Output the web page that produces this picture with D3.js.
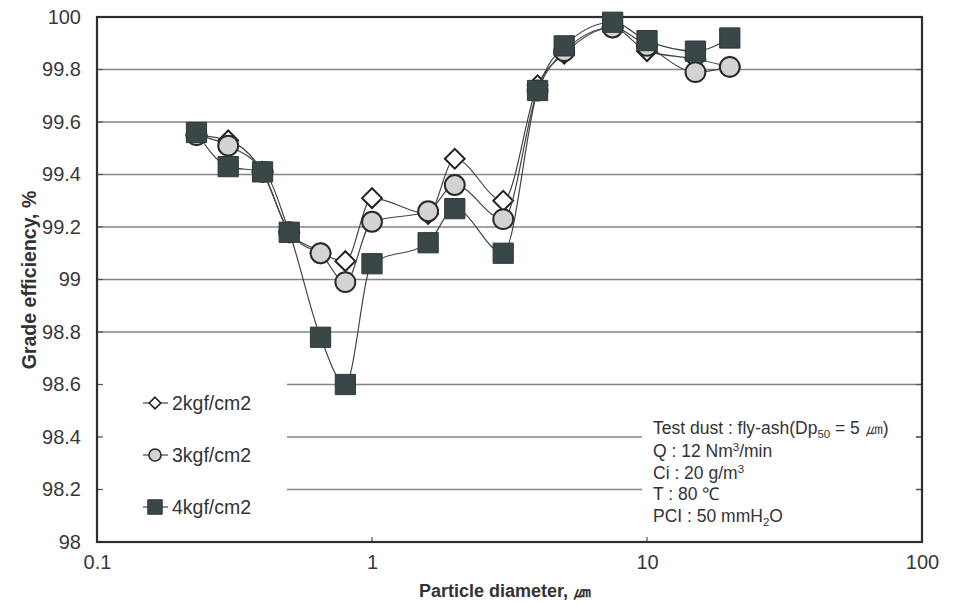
<!DOCTYPE html>
<html>
<head>
<meta charset="utf-8">
<script src="https://cdn.jsdelivr.net/npm/d3@7"></script>
<style>
  html, body { margin: 0; padding: 0; background: #fff; }
  svg { display: block; font-family: "Liberation Sans", Arial, sans-serif; }
</style>
</head>
<body>
<svg id="chart" width="953" height="605"></svg>
<script>
// Particle diameters (µm) at which grade efficiency was measured
const diameters = [0.23, 0.3, 0.4, 0.5, 0.65, 0.8, 1.0, 1.6, 2.0, 3.0, 4.0, 5.0, 7.5, 10, 15, 20];

// Grade efficiency (%) for each pulse pressure
const eff2kgf = [99.55, 99.53, 99.41, 99.18, 99.10, 99.07, 99.31, 99.25, 99.46, 99.30, 99.74, 99.86, 99.96, 99.87, 99.84, 99.81];
const eff3kgf = [99.55, 99.51, 99.41, 99.18, 99.10, 98.99, 99.22, 99.26, 99.36, 99.23, 99.72, 99.87, 99.96, 99.89, 99.79, 99.81];
const eff4kgf = [99.56, 99.43, 99.41, 99.18, 98.78, 98.60, 99.06, 99.14, 99.27, 99.10, 99.72, 99.89, 99.98, 99.91, 99.87, 99.92];

const seriesNames = ["2kgf/cm2", "3kgf/cm2", "4kgf/cm2"];

// Axis ticks
const xTicks = [0.1, 1, 10, 100];
const yTicks = [98, 98.2, 98.4, 98.6, 98.8, 99, 99.2, 99.4, 99.6, 99.8, 100];

const svg = d3.select("#chart");

const x = d3.scaleLog().domain([0.1, 100]).range([97, 922]);
const y = d3.scaleLinear().domain([98, 100]).range([542, 17]);

// Horizontal grid lines
svg.append("g")
  .selectAll("line")
  .data(yTicks.filter(v => v > 98 && v < 100))
  .join("line")
  .attr("x1", x(0.1)).attr("x2", x(100))
  .attr("y1", d => y(d)).attr("y2", d => y(d))
  .attr("stroke", "#858585").attr("stroke-width", 1.5);

// White panels behind the legend and the test-condition note
svg.append("rect").attr("x", 99).attr("y", 352).attr("width", 188).attr("height", 188).attr("fill", "#fff");
svg.append("rect").attr("x", 642).attr("y", 405).attr("width", 274).attr("height", 135).attr("fill", "#fff");

// Inward tick stubs on left and right edges
const stubs = svg.append("g").attr("stroke", "#555").attr("stroke-width", 1.2);
yTicks.forEach(v => {
  stubs.append("line").attr("x1", x(0.1)).attr("x2", x(0.1) + 6).attr("y1", y(v)).attr("y2", y(v));
  stubs.append("line").attr("x1", x(100) - 6).attr("x2", x(100)).attr("y1", y(v)).attr("y2", y(v));
});
[1, 10].forEach(v => {
  stubs.append("line").attr("x1", x(v)).attr("x2", x(v)).attr("y1", y(98)).attr("y2", y(98) - 5);
});

// Plot frame
svg.append("rect")
  .attr("x", x(0.1)).attr("y", y(100))
  .attr("width", x(100) - x(0.1)).attr("height", y(98) - y(100))
  .attr("fill", "none").attr("stroke", "#2e2e2e").attr("stroke-width", 2.2);

// Axes (labels only)
const fmt = d => String(+d.toFixed(1));
const yAxis = svg.append("g")
  .attr("transform", `translate(${x(0.1)},0)`)
  .call(d3.axisLeft(y).tickValues(yTicks).tickFormat(fmt).tickSize(0).tickPadding(16));
const xAxis = svg.append("g")
  .attr("transform", `translate(0,${y(98)})`)
  .call(d3.axisBottom(x).tickValues(xTicks).tickFormat(fmt).tickSize(0).tickPadding(13));
[yAxis, xAxis].forEach(g => {
  g.select(".domain").remove();
  g.selectAll("text")
    .attr("font-family", "'Liberation Sans', Arial, sans-serif")
    .attr("font-size", 20).attr("fill", "#383838");
});

// Axis titles
svg.append("text")
  .attr("x", 505).attr("y", 597)
  .attr("text-anchor", "middle")
  .attr("font-size", 18).attr("font-weight", "bold").attr("fill", "#333")
  .text("Particle diameter, ㎛");
svg.append("text")
  .attr("transform", "translate(36,280) rotate(-90)")
  .attr("text-anchor", "middle")
  .attr("font-size", 19.5).attr("font-weight", "bold").attr("fill", "#333")
  .text("Grade efficiency, %");

// Marker drawing helpers
const markerStyle = [
  { sym: d3.symbolDiamond2, size: 250, fill: "#fff", stroke: "#222", sw: 2 },
  { sym: d3.symbolCircle, size: 310, fill: "#d3d3d3", stroke: "#2a2a2a", sw: 2 },
  { sym: d3.symbolSquare, size: 410, fill: "#3a4747", stroke: "#2f3a3a", sw: 1 }
];
const legendSizes = [85, 115, 210];

const seriesValues = [eff2kgf, eff3kgf, eff4kgf];

const line = d3.line()
  .x(d => x(d[0]))
  .y(d => y(d[1]))
  .curve(d3.curveMonotoneX);

seriesValues.forEach((vals, i) => {
  const pts = diameters.map((d, j) => [d, vals[j]]);
  const s = markerStyle[i];
  const g = svg.append("g");
  g.append("path")
    .attr("d", line(pts))
    .attr("fill", "none")
    .attr("stroke", "#444").attr("stroke-width", 1.2);
  g.selectAll("path.mk")
    .data(pts)
    .join("path")
    .attr("class", "mk")
    .attr("transform", d => `translate(${x(d[0])},${y(d[1])})`)
    .attr("d", d3.symbol().type(s.sym).size(s.size))
    .attr("fill", s.fill).attr("stroke", s.stroke).attr("stroke-width", s.sw);
});

// Legend
const legendY = [403, 455, 507];
seriesNames.forEach((name, i) => {
  const s = markerStyle[i];
  const g = svg.append("g").attr("transform", `translate(155,${legendY[i]})`);
  g.append("line").attr("x1", -12).attr("x2", 13).attr("y1", 0).attr("y2", 0)
    .attr("stroke", "#444").attr("stroke-width", 1.2);
  g.append("path")
    .attr("d", d3.symbol().type(s.sym).size(legendSizes[i]))
    .attr("fill", s.fill).attr("stroke", s.stroke).attr("stroke-width", i === 2 ? 1 : 1.6);
  g.append("text")
    .attr("x", 17).attr("y", 0).attr("dy", "0.35em")
    .attr("font-size", 19.5).attr("fill", "#333")
    .text(name);
});

// Test conditions note
const note = svg.append("g").attr("font-size", 17.5).attr("fill", "#333");
const noteX = 653;
const noteLines = [
  { y: 428, parts: [["Test dust : fly-ash(Dp", null], ["50", "sub"], [" = 5 ㎛)", null]] },
  { y: 451, parts: [["Q : 12 Nm", null], ["3", "sup"], ["/min", null]] },
  { y: 473, parts: [["Ci : 20 g/m", null], ["3", "sup"]] },
  { y: 494, parts: [["T : 80 ℃", null]] },
  { y: 516, parts: [["PCI : 50 mmH", null], ["2", "sub"], ["O", null]] }
];
noteLines.forEach(l => {
  const t = note.append("text").attr("x", noteX).attr("y", l.y).attr("dy", "0.35em");
  let prev = null;
  l.parts.forEach(([str, kind]) => {
    const ts = t.append("tspan").text(str);
    if (kind === "sub") ts.attr("font-size", 11.5).attr("dy", 4);
    else if (kind === "sup") ts.attr("font-size", 11.5).attr("dy", -6);
    else if (prev === "sub") ts.attr("dy", -4);
    else if (prev === "sup") ts.attr("dy", 6);
    prev = kind;
  });
});
</script>
</body>
</html>
